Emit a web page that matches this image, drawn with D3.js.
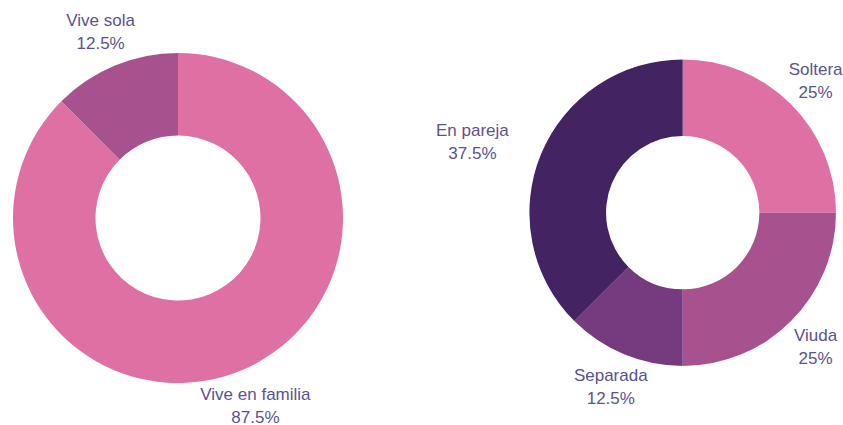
<!DOCTYPE html>
<html>
<head>
<meta charset="utf-8">
<script src="https://cdn.jsdelivr.net/npm/d3@7"></script>
<style>
  html, body { margin: 0; padding: 0; background: #fff; }
  svg { display: block; }
</style>
</head>
<body>
<script>
(function () {
  'use strict';

  // left donut: convivencia
  const livingLabels = ['Vive en familia', 'Vive sola'];
  const livingValues = [87.5, 12.5];
  const livingColors = ['#de70a4', '#a7528f'];

  // right donut: estado civil
  const civilLabels = ['Soltera', 'Viuda', 'Separada', 'En pareja'];
  const civilValues = [25, 25, 12.5, 37.5];
  const civilColors = ['#de70a4', '#a7528f', '#763b7e', '#432362'];

  const width = 843;
  const height = 425;

  const svg = d3.select('body')
    .append('svg')
    .attr('width', width)
    .attr('height', height);

  // ===========================================================================
  // donut
  // ===========================================================================
  function drawDonut (labels, values, colors, cx, cy, r) {
    const rows = labels.map((l, i) => ({ label: l, value: values[i], color: colors[i] }));
    const total = d3.sum(values);

    const pie = d3.pie()
      .sort(null)
      .value(d => d.value);

    const arc = d3.arc()
      .innerRadius(r * 0.5)
      .outerRadius(r);

    const labelArc = d3.arc()
      .innerRadius(r * 1.226)
      .outerRadius(r * 1.226);

    const g = svg.append('g')
      .attr('transform', `translate(${cx},${cy})`);

    const arcs = pie(rows);

    g.selectAll('path')
      .data(arcs)
      .enter()
      .append('path')
      .attr('d', arc)
      .attr('fill', d => d.data.color);

    const fmt = v => (Math.round(v * 10) / 10) + '%';

    const lab = g.selectAll('text')
      .data(arcs)
      .enter()
      .append('text')
      .attr('font-family', '"Liberation Sans", Arial, sans-serif')
      .attr('font-size', '17px')
      .attr('fill', '#5b528f')
      .attr('text-anchor', 'middle');

    lab.append('tspan')
      .attr('x', 0)
      .attr('y', -5)
      .text(d => d.data.label);

    lab.append('tspan')
      .attr('x', 0)
      .attr('y', 18)
      .text(d => fmt(d.data.value / total * 100));

    // labels near the horizontal get pushed out so their edge sits on the point
    lab.attr('transform', function (d) {
      const c = labelArc.centroid(d);
      const a = (d.startAngle + d.endAngle) / 2;
      const s = Math.sin(a);
      let x = c[0];
      if (Math.abs(s) >= 0.8) {
        const w = this.getBBox().width;
        x += s > 0 ? w / 2 : -w / 2;
      }
      return `translate(${x},${c[1]})`;
    });
  }

  drawDonut(livingLabels, livingValues, livingColors, 178, 218, 165);
  drawDonut(civilLabels, civilValues, civilColors, 682.7, 212.7, 153.3);
})();
</script>
</body>
</html>
